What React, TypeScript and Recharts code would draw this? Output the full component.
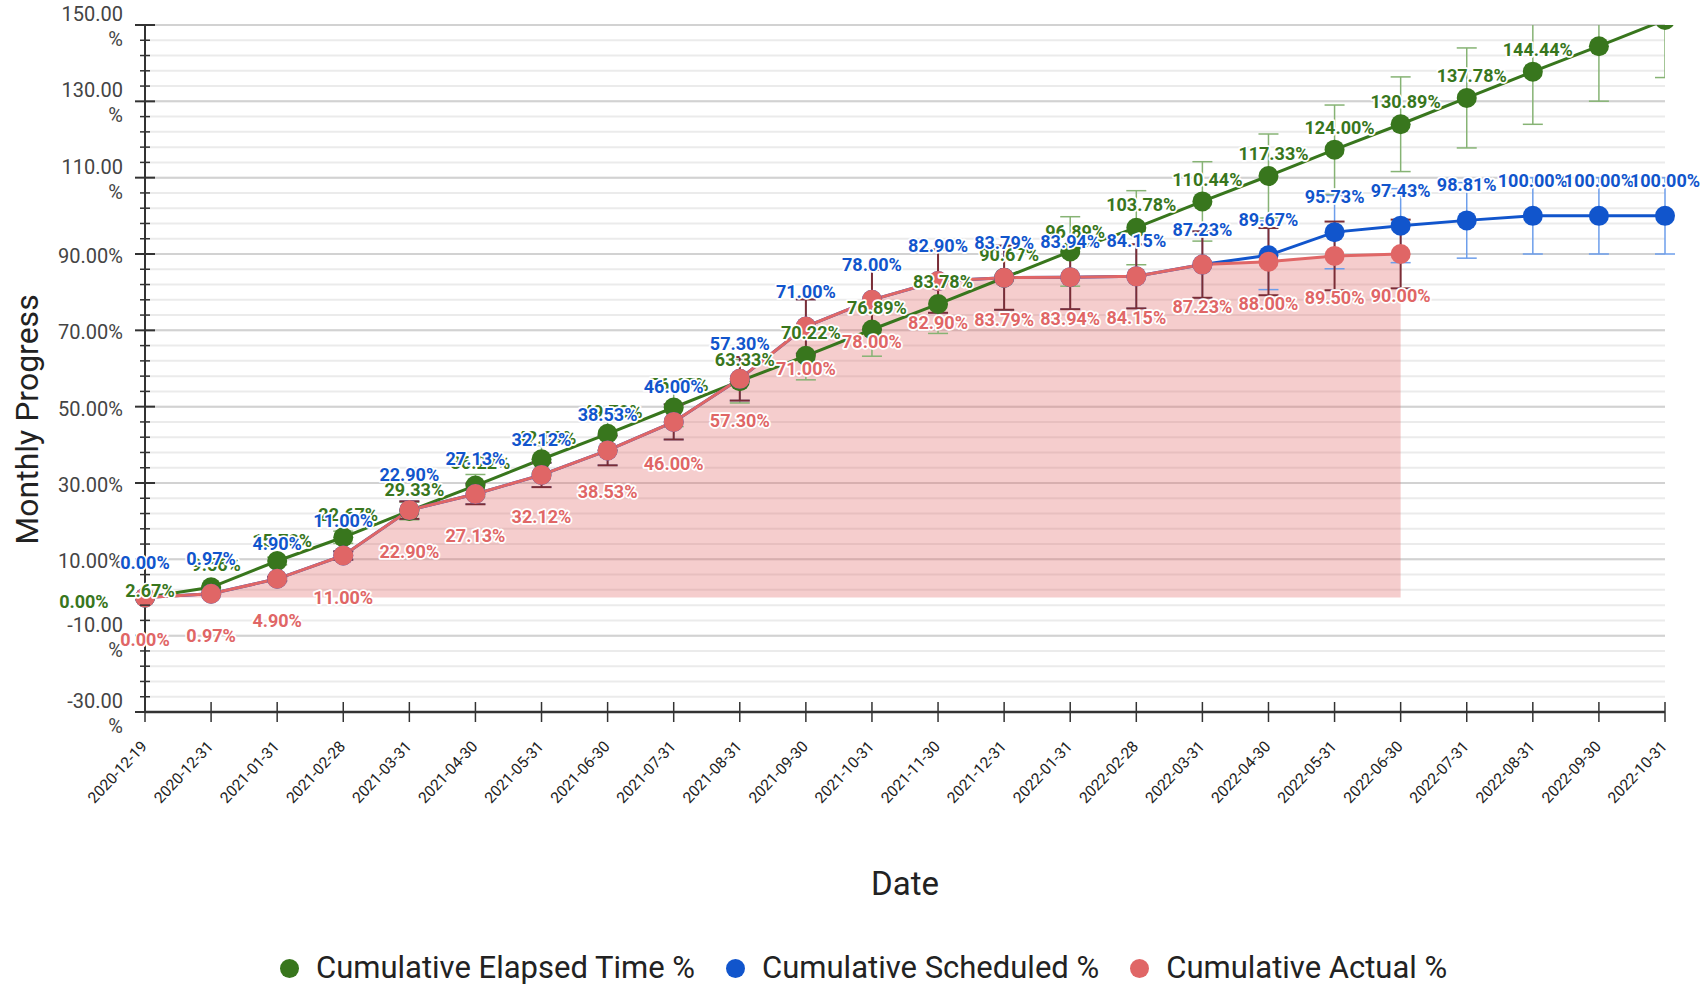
import React from 'react';
import {
  ComposedChart,
  Line,
  Area,
  XAxis,
  YAxis,
  CartesianGrid,
  ErrorBar,
  LabelList,
  Legend,
} from 'recharts';

// ---------- data ----------
const dates = [
  '2020-12-19', '2020-12-31', '2021-01-31', '2021-02-28', '2021-03-31', '2021-04-30',
  '2021-05-31', '2021-06-30', '2021-07-31', '2021-08-31', '2021-09-30', '2021-10-31',
  '2021-11-30', '2021-12-31', '2022-01-31', '2022-02-28', '2022-03-31', '2022-04-30',
  '2022-05-31', '2022-06-30', '2022-07-31', '2022-08-31', '2022-09-30', '2022-10-31',
];

const elapsed = [
  0.0, 2.67, 9.56, 15.78, 22.67, 29.33, 36.22, 42.89, 49.78, 56.67, 63.33, 70.22,
  76.89, 83.78, 90.67, 96.89, 103.78, 110.44, 117.33, 124.0, 130.89, 137.78, 144.44, 151.33,
];
const elapsedErr = [
  0, 0.3, 1.0, 1.6, 2.3, 2.9, 3.6, 4.3, 5.0, 5.7, 6.3, 7.0,
  7.7, 8.4, 9.1, 9.7, 10.4, 11.0, 11.7, 12.4, 13.1, 13.8, 14.4, 15.1,
];

const scheduled = [
  0.0, 0.97, 4.9, 11.0, 22.9, 27.13, 32.12, 38.53, 46.0, 57.3, 71.0, 78.0,
  82.9, 83.79, 83.94, 84.15, 87.23, 89.67, 95.73, 97.43, 98.81, 100.0, 100.0, 100.0,
];
const scheduledErr = [
  0, 0.1, 0.5, 1.1, 2.3, 2.7, 3.2, 3.9, 4.6, 5.7, 7.1, 7.8,
  8.3, 8.4, 8.4, 8.4, 8.7, 9.0, 9.6, 9.7, 9.9, 10.0, 10.0, 10.0,
];

const actual = [
  0.0, 0.97, 4.9, 11.0, 22.9, 27.13, 32.12, 38.53, 46.0, 57.3, 71.0, 78.0,
  82.9, 83.79, 83.94, 84.15, 87.23, 88.0, 89.5, 90.0, null, null, null, null,
];
const actualErr = [
  0, 0.1, 0.5, 1.1, 2.3, 2.7, 3.2, 3.9, 4.6, 5.7, 7.1, 7.8,
  8.3, 8.4, 8.4, 8.4, 8.7, 8.8, 9.0, 9.0, null, null, null, null,
];

const majorTicks = [-30, -10, 10, 30, 50, 70, 90, 110, 130, 150];
const minorTicks = [
  -30, -26, -22, -18, -14, -10, -6, -2, 2, 6, 10, 14, 18, 22, 26, 30, 34, 38, 42, 46,
  50, 54, 58, 62, 66, 70, 74, 78, 82, 86, 90, 94, 98, 102, 106, 110, 114, 118, 122,
  126, 130, 134, 138, 142, 146, 150,
];

const seriesNames = ['Cumulative Elapsed Time %', 'Cumulative Scheduled %', 'Cumulative Actual %'];
const GREEN = '#38761d';
const BLUE = '#1155cc';
const RED = '#e06666';
const seriesColors = [GREEN, BLUE, RED];

// ---------- layout ----------
const W = 1704;
const H = 985;
const MARGIN = { top: 25, right: 39, left: 0, bottom: 0 };
const Y_AXIS_W = 145;
const X_AXIS_H = 273;
const PLOT_W = W - MARGIN.left - MARGIN.right - Y_AXIS_W;
const PLOT_H = H - MARGIN.top - MARGIN.bottom - X_AXIS_H;
const STEP = PLOT_W / (dates.length - 1);
const Y_MIN = -30;
const Y_MAX = 150;
const CLIP_ID = 'plot-area-clip';

const rows = dates.map((d, i) => ({
  date: d,
  elapsed: elapsed[i],
  elapsedErr: elapsedErr[i],
  scheduled: scheduled[i],
  scheduledErr: scheduledErr[i],
  actual: actual[i],
  actualErr: actualErr[i],
}));

const fmt = (v: number) => `${v.toFixed(2)}%`;

const YTick = (props: any) => {
  const { x, y, payload } = props;
  const v = payload.value as number;
  const major = majorTicks.includes(v);
  const half = major ? 10 : 5;
  let label: React.ReactNode = null;
  if (major) {
    const s = fmt(v);
    if (s.length >= 7) {
      label = (
        <text textAnchor="end" fontSize={20} fill="#444">
          <tspan x={x - 22} y={y - 4}>{v.toFixed(2)}</tspan>
          <tspan x={x - 22} y={y + 21}>%</tspan>
        </text>
      );
    } else {
      label = (
        <text x={x - 22} y={y + 9} textAnchor="end" fontSize={20} fill="#444">
          {s}
        </text>
      );
    }
  }
  return (
    <g>
      <line x1={x - half} x2={x + half} y1={y} y2={y} stroke="#333" strokeWidth={major ? 2 : 1.5} />
      {label}
    </g>
  );
};

const XTick = (props: any) => {
  const { x, y, payload } = props;
  const ax = x + 3;
  const ay = y + 35;
  return (
    <g>
      <line x1={x} x2={x} y1={y - 10} y2={y + 10} stroke="#333" strokeWidth={1.5} />
      <text x={ax} y={ay} transform={`rotate(-47, ${ax}, ${ay})`} textAnchor="end" fontSize={15.5} fill="#222">
        {payload.value}
      </text>
    </g>
  );
};

const makeLabel = (color: string, dx: number, dy: number) => (props: any) => {
  const vb = props.viewBox || {};
  const x = props.x ?? vb.x;
  const y = props.y ?? vb.y;
  const v = props.value;
  if (v == null || x == null || y == null || v > Y_MAX) return null;
  return (
    <text
      x={x + dx}
      y={y + dy}
      textAnchor="middle"
      fontSize={18}
      fontWeight="bold"
      fill={color}
      stroke="#ffffff"
      strokeWidth={3.5}
      strokeLinejoin="round"
      paintOrder="stroke"
    >
      {fmt(v)}
    </text>
  );
};

const greenLabel = makeLabel(GREEN, -STEP + 5, 10);
const blueLabel = makeLabel(BLUE, 0, -29);
const redLabel = makeLabel(RED, 0, 48);

const renderLegend = () => (
  <div
    style={{
      display: 'flex',
      alignItems: 'center',
      paddingLeft: 280,
      fontSize: 31,
      color: '#222',
      lineHeight: '36px',
      whiteSpace: 'nowrap',
    }}
  >
    {seriesNames.map((name, i) => (
      <div key={name} style={{ display: 'flex', alignItems: 'center', marginRight: 31 }}>
        <span
          style={{
            display: 'inline-block',
            width: 19,
            height: 19,
            borderRadius: '50%',
            background: seriesColors[i],
            marginRight: 17,
          }}
        />
        <span>{name}</span>
      </div>
    ))}
  </div>
);

export default function App() {
  return (
    <div style={{ position: 'absolute', left: 0, top: 0, width: W, height: H, background: '#fff', fontFamily: 'Roboto, sans-serif' }}>
      <ComposedChart width={W} height={H} data={rows} margin={MARGIN}>
        <defs>
          <clipPath id={CLIP_ID}>
            <rect x={MARGIN.left + Y_AXIS_W} y={MARGIN.top} width={PLOT_W} height={PLOT_H} />
          </clipPath>
        </defs>
        <CartesianGrid vertical={false} horizontalValues={minorTicks} stroke="#ebebeb" strokeWidth={2} />
        <CartesianGrid vertical={false} horizontalValues={majorTicks} stroke="#d2d2d2" strokeWidth={2} />
        <XAxis
          dataKey="date"
          type="category"
          interval={0}
          height={X_AXIS_H}
          tickSize={0}
          tickMargin={0}
          tickLine={false}
          tick={<XTick />}
          axisLine={{ stroke: '#333', strokeWidth: 2.5 }}
          label={(p: any) => {
            const vb = p.viewBox || {};
            return (
              <text x={vb.x + vb.width / 2} y={vb.y + 183} textAnchor="middle" fontSize={33} fill="#222">
                Date
              </text>
            );
          }}
        />
        <YAxis
          type="number"
          domain={[Y_MIN, Y_MAX]}
          allowDataOverflow
          ticks={minorTicks}
          interval={0}
          width={Y_AXIS_W}
          tickSize={0}
          tickMargin={0}
          tickLine={false}
          tick={<YTick />}
          axisLine={{ stroke: '#333', strokeWidth: 2 }}
          label={(p: any) => {
            const vb = p.viewBox || {};
            const tx = vb.x + 38;
            const ty = vb.y + vb.height / 2 + 51;
            return (
              <text x={tx} y={ty} transform={`rotate(-90, ${tx}, ${ty})`} textAnchor="middle" fontSize={32} fill="#222">
                Monthly Progress
              </text>
            );
          }}
        />
        <Legend
          verticalAlign="middle"
          align="center"
          layout="horizontal"
          wrapperStyle={{ top: 950, left: 0, width: W }}
          content={renderLegend}
        />
        <Area
          dataKey="actual"
          type="linear"
          baseValue={0}
          stroke="none"
          fill={RED}
          fillOpacity={0.33}
          dot={false}
          activeDot={false}
          legendType="none"
          isAnimationActive={false}
        />
        <Line
          dataKey="elapsed"
          name={seriesNames[0]}
          type="linear"
          stroke={GREEN}
          strokeWidth={3}
          dot={{ r: 10, fill: GREEN, stroke: 'none' }}
          activeDot={false}
          isAnimationActive={false}
        >
          <ErrorBar
            dataKey="elapsedErr"
            direction="y"
            width={10}
            stroke="#86b374"
            strokeWidth={1.5}
            clipPath={`url(#${CLIP_ID})`}
          />
        </Line>
        <Line
          dataKey="scheduled"
          name={seriesNames[1]}
          type="linear"
          stroke={BLUE}
          strokeWidth={3}
          dot={{ r: 10, fill: BLUE, stroke: 'none' }}
          activeDot={false}
          isAnimationActive={false}
        >
          <ErrorBar dataKey="scheduledErr" direction="y" width={10} stroke="#6d9eeb" strokeWidth={1.5} />
        </Line>
        <Line
          dataKey="actual"
          name={seriesNames[2]}
          type="linear"
          stroke={RED}
          strokeWidth={3}
          dot={{ r: 10, fill: RED, stroke: 'none' }}
          activeDot={false}
          isAnimationActive={false}
        >
          <ErrorBar dataKey="actualErr" direction="y" width={10} stroke="#7b2d36" strokeWidth={2} />
        </Line>
        <Line dataKey="elapsed" stroke="none" dot={false} activeDot={false} legendType="none" isAnimationActive={false}>
          <LabelList dataKey="elapsed" content={greenLabel} />
        </Line>
        <Line dataKey="scheduled" stroke="none" dot={false} activeDot={false} legendType="none" isAnimationActive={false}>
          <LabelList dataKey="scheduled" content={blueLabel} />
        </Line>
        <Line dataKey="actual" stroke="none" dot={false} activeDot={false} legendType="none" isAnimationActive={false}>
          <LabelList dataKey="actual" content={redLabel} />
        </Line>
      </ComposedChart>
    </div>
  );
}
